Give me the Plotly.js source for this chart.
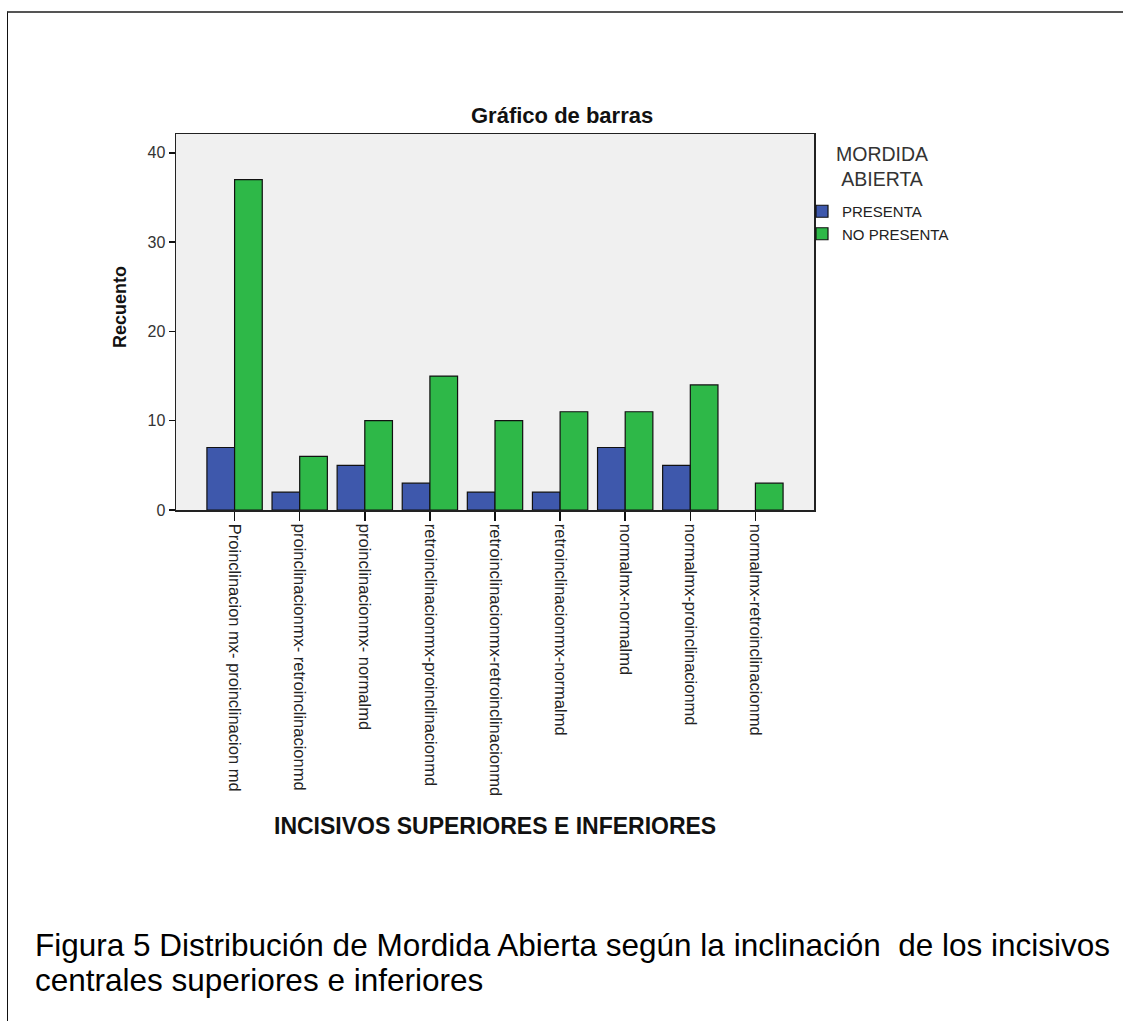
<!DOCTYPE html>
<html>
<head>
<meta charset="utf-8">
<script src="https://cdn.plot.ly/plotly-3.0.1.min.js"></script>
<style>
  html, body { margin: 0; padding: 0; background: #fff; overflow: hidden; }
  #frame { position: absolute; left: 7px; top: 11px; width: 1300px; height: 1200px;
           border-left: 1.5px solid #111; border-top: 2px solid #555; }
  #chart { position: absolute; left: 0; top: 0; width: 1123px; height: 1021px; }
</style>
</head>
<body>
<div id="frame"></div>
<div id="chart"></div>
<script>
// ---- data ----
const categories = [
  "Proinclinacion mx- proinclinacion md",
  "proinclinacionmx- retroinclinacionmd",
  "proinclinacionmx- normalmd",
  "retroinclinacionmx-proinclinacionmd",
  "retroinclinacionmx-retroinclinacionmd",
  "retroinclinacionmx-normalmd",
  "normalmx-normalmd",
  "normalmx-proinclinacionmd",
  "normalmx-retroinclinacionmd"
];
const presenta   = [7, 2, 5, 3, 2, 2, 7, 5, 0];
const noPresenta = [37, 6, 10, 15, 10, 11, 11, 14, 3];
const seriesNames = ["PRESENTA", "NO PRESENTA"];
const yTicks = [0, 10, 20, 30, 40];

// ---- layout helpers (pixel -> paper) ----
const W = 1123, H = 1021;
const L = 176, R = 814, T = 134, B = 510;
const px = x => (x - L) / (R - L);
const py = y => (B - y) / (B - T);

// no outline for zero-height bars (nothing drawn in the original)
const outline = vals => vals.map(v => (v === 0 ? 0 : 1.2));

const traces = [
  { type: "bar", name: seriesNames[0], x: categories, y: presenta,
    marker: { color: "#3E58AC", line: { color: "#111", width: outline(presenta) } } },
  { type: "bar", name: seriesNames[1], x: categories, y: noPresenta,
    marker: { color: "#2EB848", line: { color: "#111", width: outline(noPresenta) } } }
];

const font = "Liberation Sans, Arial, sans-serif";

const layout = {
  width: W, height: H,
  margin: { l: L, r: W - R, t: T, b: H - B, pad: 0 },
  paper_bgcolor: "rgba(0,0,0,0)",
  plot_bgcolor: "#F0F0F0",
  barmode: "group",
  bargap: 0.15,
  bargroupgap: 0,
  font: { family: font, color: "#222" },
  showlegend: true,
  legend: {
    x: px(802), xanchor: "left", y: py(195), yanchor: "top",
    bgcolor: "rgba(0,0,0,0)", font: { size: 15, color: "#222", family: font },
    tracegroupgap: 0, itemwidth: 30
  },
  xaxis: {
    type: "category",
    range: [-0.9, 8.9],
    showline: true, linecolor: "#222", linewidth: 1.5, mirror: true,
    ticks: "outside", ticklen: 9, tickcolor: "#111", tickwidth: 1.5,
    tickangle: 90, tickfont: { size: 16.5, color: "#222", family: font },
    showgrid: false, zeroline: false, fixedrange: true
  },
  yaxis: {
    range: [0, 42.1],
    tickvals: yTicks,
    showline: true, linecolor: "#222", linewidth: 1.5, mirror: true,
    ticks: "outside", ticklen: 6, tickcolor: "#111", tickwidth: 1.5,
    tickfont: { size: 16, color: "#333", family: font },
    showgrid: false, zeroline: false, fixedrange: true
  },
  annotations: [
    { text: "<b>Gráfico de barras</b>", xref: "paper", yref: "paper",
      x: px(562), y: py(115), xanchor: "center", yanchor: "middle", showarrow: false,
      font: { size: 22, color: "#111", family: font } },
    { text: "<b>INCISIVOS SUPERIORES E INFERIORES</b>", xref: "paper", yref: "paper",
      x: px(495), y: py(826), xanchor: "center", yanchor: "middle", showarrow: false,
      font: { size: 23, color: "#111", family: font } },
    { text: "<b>Recuento</b>", xref: "paper", yref: "paper", textangle: -90,
      x: px(120), y: py(307), xanchor: "center", yanchor: "middle", showarrow: false,
      font: { size: 18, color: "#111", family: font } },
    { text: "MORDIDA<br>ABIERTA", xref: "paper", yref: "paper",
      x: px(882), y: py(166), xanchor: "center", yanchor: "middle", align: "center", showarrow: false,
      font: { size: 19.5, color: "#333", family: font } },
    { text: "Figura 5 Distribución de Mordida Abierta según la inclinación  de los incisivos", xref: "paper", yref: "paper",
      x: px(33), y: py(945), xanchor: "left", yanchor: "middle", showarrow: false,
      font: { size: 31.5, color: "#000", family: font } },
    { text: "centrales superiores e inferiores", xref: "paper", yref: "paper",
      x: px(33), y: py(980), xanchor: "left", yanchor: "middle", showarrow: false,
      font: { size: 31.5, color: "#000", family: font } }
  ]
};

Plotly.newPlot("chart", traces, layout, { displayModeBar: false, staticPlot: true });
</script>
</body>
</html>
